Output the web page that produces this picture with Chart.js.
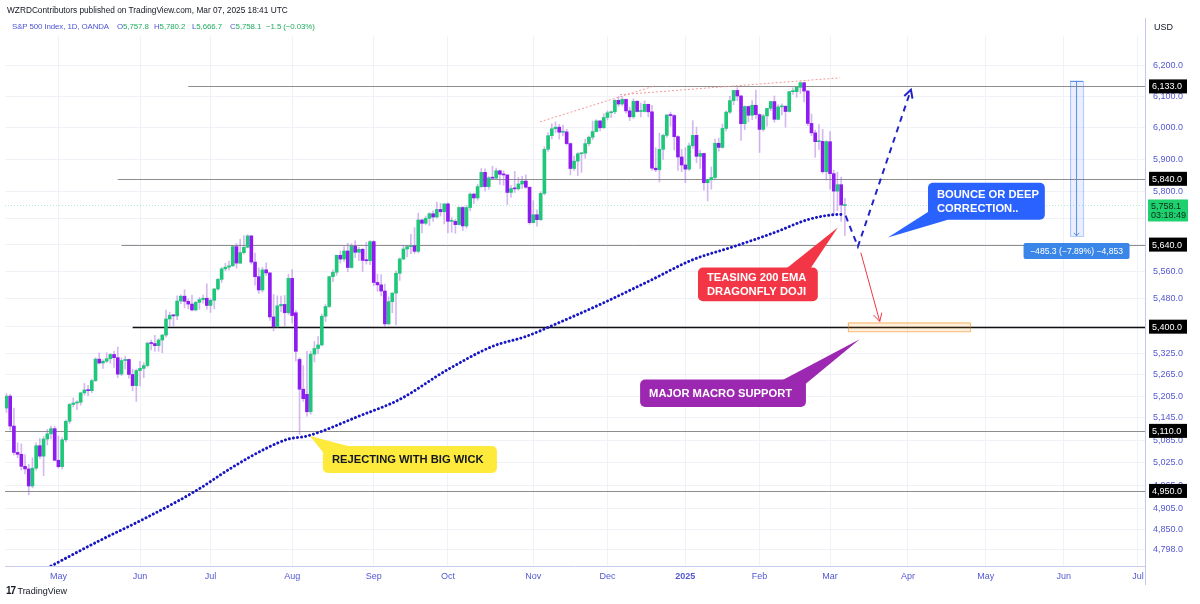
<!DOCTYPE html>
<html>
<head>
<meta charset="utf-8">
<title>S&amp;P 500 Index, 1D, OANDA</title>
<script src="https://cdn.jsdelivr.net/npm/chart.js@4.4.1/dist/chart.umd.min.js"></script>
<style>
  html, body { margin: 0; padding: 0; background: #fff; }
  #wrap { position: relative; width: 1200px; height: 604px; overflow: hidden; font-family: "Liberation Sans", Arial, sans-serif; }
  #chart { position: absolute; left: 0; top: 0; }
  .t { position: absolute; white-space: nowrap; font-size: 8.3px; line-height: 10px; }
  .s { font-size: 7.9px; letter-spacing: -0.1px; }
  .blue { color: #4c55d4; }
  .green { color: #1fae60; }
</style>
</head>
<body>
<div id="wrap">
  <canvas id="chart" width="1200" height="604"></canvas>
  <div class="t" style="left:7px;top:5px;color:#131722;">WZRDContributors published on TradingView.com, Mar 07, 2025 18:41 UTC</div>
  <div class="t s blue" style="left:12px;top:22px;">S&amp;P 500 Index, 1D, OANDA</div>
  <div class="t s" id="oVal" style="left:117px;top:22px;"></div>
  <div class="t s" id="hVal" style="left:154px;top:22px;"></div>
  <div class="t s" id="lVal" style="left:192px;top:22px;"></div>
  <div class="t s" id="cVal" style="left:230px;top:22px;"></div>
  <div class="t s green" id="chgVal" style="left:266px;top:22px;"></div>
  <div class="t" style="left:6px;top:586px;color:#131722;font-size:9px;"><b style="letter-spacing:-1px;font-size:10px;">17</b> TradingView</div>
</div>
<script>
// OANDA SPX500 daily candles, 11 Apr 2024 .. 7 Mar 2025 (index 0 = 11 Apr)
const opens = [
  // Apr
  5172, 5205, 5123, 5052, 5047, 5015, 5008, 4963, 5010, 5070, 5042, 5088, 5102, 5116,
  // May
  5031, 5014, 5086, 5136, 5182, 5186, 5188, 5214, 5222, 5220, 5248, 5308, 5297, 5302, 5309, 5321, 5312, 5266, 5304, 5307, 5265, 5234,
  // Jun
  5276, 5282, 5290, 5353, 5352, 5346, 5362, 5376, 5422, 5433, 5431, 5474, 5488, 5473, 5465, 5448, 5470, 5478, 5482,
  // Jul
  5461, 5476, 5509, 5537, 5568, 5573, 5577, 5634, 5585, 5616, 5632, 5666, 5588, 5545, 5506, 5565, 5556, 5428, 5400, 5460, 5464, 5440,
  // Aug
  5540, 5440, 5307, 5224, 5210, 5162, 5322, 5338, 5348, 5430, 5458, 5545, 5558, 5608, 5597, 5621, 5572, 5635, 5617, 5626, 5593, 5592,
  // Sep
  5649, 5528, 5521, 5503, 5408, 5472, 5497, 5555, 5597, 5627, 5634, 5636, 5620, 5714, 5704, 5719, 5733, 5723, 5746, 5739,
  // Oct
  5763, 5710, 5710, 5700, 5752, 5696, 5752, 5793, 5781, 5816, 5860, 5816, 5843, 5842, 5865, 5854, 5852, 5798, 5810, 5809, 5824, 5833, 5814,
  // Nov
  5706, 5730, 5715, 5795, 5932, 5975, 5997, 6002, 5986, 5987, 5950, 5872, 5895, 5918, 5920, 5950, 5970, 5988, 6022, 6000,
  // Dec
  6033, 6048, 6051, 6088, 6076, 6091, 6054, 6035, 6085, 6052, 6052, 6075, 6051, 5873, 5868, 5932, 5976, 6041, 6039, 5972, 5908,
  // Jan
  5883, 5870, 5943, 5976, 5910, 5919, 5828, 5837, 5844, 5951, 5938, 5998, 6050, 6087, 6120, 6102, 6013, 6068, 6040, 6072,
  // Feb
  6042, 5995, 6038, 6062, 6084, 6027, 6067, 6069, 6052, 6116, 6116, 6130, 6145, 6118, 6014, 5984, 5956, 5957, 5862,
  // Mar
  5956, 5856, 5802, 5822, 5757.8
];
const highs = [
  5212, 5210, 5172, 5078, 5075, 5046, 5020, 5038, 5078, 5090, 5095, 5114, 5123, 5122,
  5096, 5092, 5140, 5185, 5200, 5193, 5216, 5240, 5235, 5252, 5312, 5325, 5306, 5326, 5324, 5330, 5342, 5311, 5316, 5308, 5280, 5280,
  5302, 5298, 5356, 5362, 5375, 5366, 5378, 5448, 5442, 5436, 5489, 5492, 5507, 5480, 5491, 5473, 5484, 5491, 5524,
  5481, 5511, 5540, 5572, 5584, 5591, 5636, 5643, 5656, 5667, 5670, 5668, 5615, 5571, 5572, 5586, 5558, 5493, 5489, 5488, 5490, 5552,
  5566, 5446, 5312, 5290, 5330, 5330, 5358, 5372, 5436, 5464, 5547, 5565, 5609, 5621, 5634, 5644, 5643, 5652, 5632, 5629, 5647, 5652,
  5652, 5553, 5551, 5523, 5486, 5498, 5562, 5601, 5637, 5638, 5671, 5691, 5735, 5717, 5726, 5736, 5742, 5768, 5765, 5764,
  5766, 5721, 5716, 5754, 5755, 5758, 5797, 5796, 5823, 5872, 5871, 5847, 5879, 5873, 5868, 5865, 5853, 5819, 5863, 5844, 5848, 5852, 5815,
  5773, 5745, 5800, 5940, 5984, 6013, 6019, 6011, 6009, 5995, 5952, 5911, 5922, 5922, 5964, 5974, 6021, 6026, 6023, 6045,
  6054, 6054, 6090, 6100, 6100, 6092, 6066, 6093, 6086, 6079, 6086, 6076, 6072, 5937, 5983, 5980, 6041, 6050, 6042, 5975, 5932,
  5937, 5952, 6023, 6002, 5929, 5920, 5839, 5877, 5964, 5967, 6012, 6054, 6101, 6120, 6129, 6105, 6070, 6070, 6087, 6121,
  6045, 6043, 6063, 6085, 6102, 6074, 6077, 6070, 6117, 6128, 6130, 6148, 6146, 6120, 6044, 5993, 6010, 5995, 5960,
  5988, 5867, 5861, 5845, 5780.2
];
const lows = [
  5160, 5112, 5045, 5038, 5005, 4995, 4940, 4958, 5005, 5035, 4990, 5072, 5088, 5030,
  5010, 5008, 5080, 5130, 5176, 5168, 5180, 5208, 5206, 5215, 5245, 5294, 5282, 5298, 5296, 5285, 5256, 5262, 5280, 5255, 5220, 5190,
  5233, 5256, 5286, 5334, 5330, 5330, 5326, 5370, 5402, 5402, 5420, 5466, 5454, 5451, 5445, 5445, 5450, 5468, 5450,
  5441, 5451, 5505, 5528, 5562, 5564, 5575, 5570, 5583, 5612, 5630, 5582, 5520, 5496, 5500, 5548, 5418, 5388, 5398, 5443, 5402, 5435,
  5410, 5302, 5100, 5190, 5150, 5155, 5300, 5324, 5345, 5415, 5455, 5530, 5549, 5585, 5590, 5560, 5570, 5601, 5592, 5560, 5582, 5580,
  5518, 5502, 5489, 5401, 5405, 5440, 5405, 5534, 5595, 5603, 5613, 5614, 5615, 5675, 5700, 5697, 5710, 5720, 5726, 5702,
  5675, 5677, 5674, 5698, 5682, 5690, 5742, 5764, 5774, 5812, 5803, 5808, 5838, 5840, 5823, 5820, 5761, 5783, 5798, 5805, 5810, 5810, 5701,
  5705, 5695, 5712, 5790, 5925, 5965, 5985, 5964, 5974, 5945, 5852, 5866, 5850, 5860, 5904, 5943, 5962, 5990, 5990, 5998,
  6025, 6033, 6045, 6068, 6070, 6047, 6023, 6030, 6050, 6035, 6050, 6035, 5866, 5862, 5830, 5900, 5970, 6005, 5930, 5866, 5862,
  5828, 5866, 5935, 5890, 5872, 5805, 5772, 5808, 5840, 5926, 5935, 5990, 6045, 6074, 6087, 5960, 5994, 6018, 6026, 6030,
  5922, 5989, 6005, 6054, 6018, 6025, 6041, 6002, 6050, 6107, 6098, 6110, 6083, 6007, 5975, 5907, 5932, 5857, 5836,
  5808, 5731, 5742, 5710, 5666.7
];
const closes = [
  5205, 5123, 5052, 5047, 5015, 5008, 4963, 5010, 5070, 5042, 5088, 5102, 5116, 5031,
  5014, 5086, 5136, 5182, 5186, 5188, 5214, 5222, 5220, 5248, 5308, 5297, 5302, 5309, 5321, 5312, 5266, 5304, 5307, 5265, 5234, 5276,
  5282, 5290, 5353, 5352, 5346, 5362, 5376, 5422, 5433, 5431, 5474, 5488, 5473, 5465, 5448, 5470, 5478, 5482, 5461,
  5476, 5509, 5537, 5568, 5573, 5577, 5634, 5585, 5616, 5632, 5666, 5588, 5545, 5506, 5565, 5556, 5428, 5400, 5460, 5464, 5440, 5540,
  5432, 5330, 5224, 5198, 5162, 5322, 5338, 5348, 5430, 5458, 5545, 5558, 5608, 5597, 5621, 5572, 5635, 5617, 5626, 5593, 5592, 5649,
  5528, 5521, 5503, 5408, 5472, 5497, 5555, 5597, 5627, 5634, 5636, 5620, 5714, 5704, 5719, 5733, 5723, 5746, 5739, 5763,
  5710, 5710, 5700, 5752, 5696, 5752, 5793, 5781, 5816, 5860, 5816, 5843, 5842, 5865, 5854, 5852, 5798, 5810, 5809, 5824, 5833, 5814, 5706,
  5730, 5715, 5795, 5932, 5975, 5997, 6002, 5986, 5987, 5950, 5872, 5895, 5918, 5920, 5950, 5970, 5988, 6022, 6000, 6033,
  6048, 6051, 6088, 6076, 6091, 6054, 6035, 6085, 6052, 6052, 6075, 6051, 5873, 5868, 5932, 5976, 6041, 6039, 5972, 5908, 5883,
  5870, 5943, 5976, 5910, 5919, 5828, 5837, 5844, 5951, 5938, 5998, 6050, 6087, 6120, 6102, 6013, 6068, 6040, 6072, 6042,
  5995, 6038, 6062, 6084, 6027, 6067, 6069, 6052, 6116, 6116, 6130, 6145, 6118, 6014, 5984, 5956, 5957, 5862, 5956,
  5856, 5802, 5822, 5759.6, 5758.1
];

// 200 EMA at a few bars
const emaIdx = [11, 25, 37, 51, 61, 70, 76, 81, 95, 106, 119, 131, 140, 149, 160, 173, 185, 196, 207, 216, 223, 226];
const emaVal = [4752, 4821, 4877, 4950, 5013, 5063, 5088, 5096, 5150, 5196, 5279, 5344, 5372, 5412, 5464, 5531, 5595, 5634, 5676, 5715, 5730, 5731];

// time axis (bar index of first session of each month, future months included)
const monthIdx = [14, 36, 55, 77, 99, 119, 142, 162, 183, 203, 222, 243, 264, 285, 305];
const monthLabels = ['May', 'Jun', 'Jul', 'Aug', 'Sep', 'Oct', 'Nov', 'Dec', '2025', 'Feb', 'Mar', 'Apr', 'May', 'Jun', 'Jul'];

// price axis
const priceTicks = [4798, 4850, 4905, 4965, 5025, 5085, 5145, 5205, 5265, 5325, 5400, 5480, 5560, 5640, 5720, 5800, 5900, 6000, 6100, 6200];

// horizontal levels drawn on the chart
const levelPrices = [6133, 5840, 5640, 5400, 5110, 4950];
const levelStart = [49, 30, 31, 34, -1, -1];

const UP = '#20c77a';
const DOWN = '#8e1cf0';
const TICK = '#5458d1';
const FONT = '"Liberation Sans", Arial, sans-serif';

function fmt(v) {
    return v.toLocaleString('en-US', { minimumFractionDigits: 1, maximumFractionDigits: 1 });
}

// Header with last bar values
const last = closes.length - 1;
const chg = closes[last] - closes[last - 1];
const sign = chg < 0 ? '\u2212' : '+';
const pair = (k, v) => '<span class="blue">' + k + '</span><span class="green">' + fmt(v) + '</span>';
document.getElementById('oVal').innerHTML = pair('O', opens[last]);
document.getElementById('hVal').innerHTML = pair('H', highs[last]);
document.getElementById('lVal').innerHTML = pair('L', lows[last]);
document.getElementById('cVal').innerHTML = pair('C', closes[last]);
document.getElementById('chgVal').textContent =
    sign + Math.abs(chg).toFixed(1) + ' (' + sign + Math.abs(chg / closes[last - 1] * 100).toFixed(2) + '%)';

// Drawings (in bar index / price)
const trendLines = [[143.8, 6019, 174.8, 6135], [165.4, 6106, 224.7, 6161]];
const scenarioPath = [[226.2, 5727], [229.5, 5634], [243.8, 6122]];
const redArrow = [[230.3, 5616], [235.4, 5415]];
const targetZone = { x1: 226.8, x2: 259.7, top: 5412, bottom: 5387 };
const measure = { x1: 286.7, x2: 290.2, top: 6151, bottom: 5666, text: '\u2212485.3 (\u22127.89%) \u22124,853' };
const callouts = [
    { lines: ['BOUNCE OR DEEP', 'CORRECTION..'], bg: '#2962ff', fg: '#fff', x1: 248.4, x2: 279.9, top: 5828, bottom: 5715, tip: [237.6, 5661], base: [[0.02, 0.75], [0.17, 1]] },
    { lines: ['TEASING 200 EMA', 'DRAGONFLY DOJI'], bg: '#f23645', fg: '#fff', x1: 186.4, x2: 218.7, top: 5572, bottom: 5473, tip: [224.1, 5691], base: [[0.74, 0.02], [0.94, 0.02]] },
    { lines: ['MAJOR MACRO SUPPORT'], bg: '#9c27b0', fg: '#fff', x1: 170.8, x2: 215.5, top: 5251, bottom: 5175, tip: [230, 5364], base: [[0.86, 0.02], [0.99, 0.2]] },
    { lines: ['REJECTING WITH BIG WICK'], bg: '#fdea3b', fg: '#131722', x1: 85.3, x2: 132.2, top: 5069, bottom: 4997, tip: [81.8, 5096], base: [[0.01, 0.3], [0.16, 0.02]] }
];

function arrowHead(ctx, x0, y0, x1, y1, len, ang) {
    const a = Math.atan2(y1 - y0, x1 - x0);
    ctx.beginPath();
    ctx.moveTo(x1 - len * Math.cos(a - ang), y1 - len * Math.sin(a - ang));
    ctx.lineTo(x1, y1);
    ctx.lineTo(x1 - len * Math.cos(a + ang), y1 - len * Math.sin(a + ang));
    ctx.stroke();
}

// Level lines and last price line, under the candles
const levelsPlugin = {
    id: 'levels',
    beforeDatasetsDraw(chart) {
        const { ctx, chartArea: a, scales: { x, y } } = chart;
        ctx.save();
        // last price line
        const py = Math.round(y.getPixelForValue(closes[last])) + 0.5;
        ctx.strokeStyle = 'rgba(34,196,123,0.35)';
        ctx.setLineDash([1, 2]);
        ctx.lineWidth = 1;
        ctx.beginPath();
        ctx.moveTo(a.left, py);
        ctx.lineTo(a.right, py);
        ctx.stroke();
        ctx.setLineDash([]);
        levelPrices.forEach((p, i) => {
            const yy = Math.round(y.getPixelForValue(p)) + 0.5;
            ctx.strokeStyle = p === 5400 ? '#111' : '#8d8d8d';
            ctx.lineWidth = p === 5400 ? 1.4 : 1;
            ctx.beginPath();
            ctx.moveTo(Math.max(a.left, x.getPixelForValue(levelStart[i])), yy);
            ctx.lineTo(a.right, yy);
            ctx.stroke();
        });
        ctx.restore();
    }
};

// Drawings on top of the candles, then the price axis labels
const overlayPlugin = {
    id: 'overlay',
    afterDatasetsDraw(chart) {
        const { ctx, scales: { x, y } } = chart;
        const X = v => x.getPixelForValue(v);
        const Y = v => y.getPixelForValue(v);
        ctx.save();

        // pink dotted trend lines
        ctx.strokeStyle = '#f29a9a';
        ctx.lineWidth = 1;
        ctx.setLineDash([2, 2]);
        trendLines.forEach(t => {
            ctx.beginPath();
            ctx.moveTo(X(t[0]), Y(t[1]));
            ctx.lineTo(X(t[2]), Y(t[3]));
            ctx.stroke();
        });

        // dashed scenario path
        ctx.strokeStyle = '#2323c8';
        ctx.lineWidth = 2;
        ctx.setLineDash([6, 5]);
        ctx.beginPath();
        scenarioPath.forEach((p, i) => i ? ctx.lineTo(X(p[0]), Y(p[1])) : ctx.moveTo(X(p[0]), Y(p[1])));
        ctx.stroke();
        ctx.setLineDash([]);
        const s1 = scenarioPath[1], s2 = scenarioPath[2];
        arrowHead(ctx, X(s1[0]), Y(s1[1]), X(s2[0]), Y(s2[1]), 9, 0.5);

        // red arrow to the target zone
        ctx.strokeStyle = '#f23645';
        ctx.lineWidth = 1;
        ctx.beginPath();
        ctx.moveTo(X(redArrow[0][0]), Y(redArrow[0][1]));
        ctx.lineTo(X(redArrow[1][0]), Y(redArrow[1][1]));
        ctx.stroke();
        arrowHead(ctx, X(redArrow[0][0]), Y(redArrow[0][1]), X(redArrow[1][0]), Y(redArrow[1][1]), 9, 0.5);

        // target zone
        const zx = X(targetZone.x1), zy = Y(targetZone.top);
        const zw = X(targetZone.x2) - zx, zh = Y(targetZone.bottom) - zy;
        ctx.fillStyle = 'rgba(255,152,0,0.14)';
        ctx.fillRect(zx, zy, zw, zh);
        ctx.strokeStyle = 'rgba(245,124,0,0.55)';
        ctx.strokeRect(zx + 0.5, zy + 0.5, zw, zh);

        // measurement tool
        const mx1 = X(measure.x1), mx2 = X(measure.x2);
        const my1 = Y(measure.top), my2 = Y(measure.bottom);
        const mc = (mx1 + mx2) / 2;
        ctx.fillStyle = 'rgba(41,98,255,0.1)';
        ctx.fillRect(mx1, my1, mx2 - mx1, my2 - my1);
        ctx.strokeStyle = 'rgba(41,98,255,0.35)';
        ctx.strokeRect(mx1 + 0.5, my1 + 0.5, mx2 - mx1, my2 - my1);
        ctx.strokeStyle = '#5a8de6';
        ctx.beginPath();
        ctx.moveTo(mc, my1);
        ctx.lineTo(mc, my2);
        ctx.moveTo(mx1, my1 + 0.5);
        ctx.lineTo(mx2, my1 + 0.5);
        ctx.stroke();
        arrowHead(ctx, mc, my1, mc, my2, 4, 0.7);
        ctx.fillStyle = '#3a86e8';
        ctx.beginPath();
        ctx.roundRect(mc - 53, my2 + 7, 106, 16, 2);
        ctx.fill();
        ctx.fillStyle = '#fff';
        ctx.font = '8.6px ' + FONT;
        ctx.textAlign = 'center';
        ctx.textBaseline = 'middle';
        ctx.fillText(measure.text, mc, my2 + 15.5);

        // callouts
        callouts.forEach(c => {
            const bx = X(c.x1), by = Y(c.top);
            const bw = X(c.x2) - bx, bh = Y(c.bottom) - by;
            ctx.fillStyle = c.bg;
            ctx.beginPath();
            ctx.roundRect(bx, by, bw, bh, 5);
            ctx.fill();
            ctx.beginPath();
            ctx.moveTo(bx + c.base[0][0] * bw, by + c.base[0][1] * bh);
            ctx.lineTo(X(c.tip[0]), Y(c.tip[1]));
            ctx.lineTo(bx + c.base[1][0] * bw, by + c.base[1][1] * bh);
            ctx.closePath();
            ctx.fill();
            ctx.fillStyle = c.fg;
            ctx.font = 'bold 11.2px ' + FONT;
            ctx.textAlign = 'left';
            ctx.textBaseline = 'middle';
            const lh = 14;
            const y0 = by + bh / 2 - (c.lines.length - 1) * lh / 2 + 0.5;
            c.lines.forEach((t, k) => ctx.fillText(t, bx + 9, y0 + k * lh));
        });
        ctx.restore();
    },
    afterDraw(chart) {
        const { ctx, chartArea: a, scales: { y } } = chart;
        ctx.save();
        // axis frame line
        ctx.strokeStyle = '#c3c6f4';
        ctx.lineWidth = 1;
        ctx.beginPath();
        ctx.moveTo(a.right + 0.5, 18);
        ctx.lineTo(a.right + 0.5, 585);
        ctx.stroke();

        ctx.font = '9px ' + FONT;
        ctx.textBaseline = 'middle';
        ctx.textAlign = 'left';
        ctx.fillStyle = '#131722';
        ctx.fillText('USD', a.right + 9, 28);

        // level price tags
        levelPrices.forEach(p => {
            const yy = y.getPixelForValue(p);
            ctx.fillStyle = '#000';
            ctx.fillRect(a.right + 4, yy - 7, 38, 14);
            ctx.fillStyle = '#fff';
            ctx.fillText(fmt(p), a.right + 7, yy + 0.5);
        });

        // last price tag with countdown
        const cy = y.getPixelForValue(closes[last]);
        ctx.fillStyle = '#1fd06f';
        ctx.fillRect(a.right + 3, cy - 6, 40, 22);
        ctx.fillStyle = '#0d2b19';
        ctx.fillText(fmt(closes[last]), a.right + 6, cy + 1);
        ctx.fillText('03:18:49', a.right + 6, cy + 10.5);
        ctx.restore();
    }
};

const bodyData = closes.map((c, i) => ({ x: i, y: [opens[i], c] }));
const wickData = closes.map((c, i) => ({ x: i, y: [lows[i], highs[i]] }));
const bodyColors = closes.map((c, i) => c >= opens[i] ? UP : DOWN);

new Chart(document.getElementById('chart'), {
    type: 'bar',
    data: {
        datasets: [
            {
                type: 'line',
                data: emaIdx.map((v, i) => ({ x: v, y: emaVal[i] })),
                borderColor: '#1616c4',
                borderWidth: 2.9,
                borderDash: [0.1, 4],
                borderCapStyle: 'round',
                cubicInterpolationMode: 'monotone',
                pointRadius: 0,
                order: 0
            },
            {
                data: bodyData,
                backgroundColor: bodyColors,
                barThickness: 3,
                grouped: false,
                minBarLength: 1,
                order: 1
            },
            {
                data: wickData,
                backgroundColor: 'rgba(160,100,225,0.45)',
                barThickness: 1,
                grouped: false,
                order: 2
            }
        ]
    },
    options: {
        responsive: false,
        animation: false,
        events: [],
        layout: { padding: { left: 5, right: 0, top: 36, bottom: 18 } },
        plugins: { legend: { display: false }, tooltip: { enabled: false } },
        scales: {
            x: {
                type: 'linear',
                min: -0.4,
                max: 306.9,
                offset: false,
                afterBuildTicks: axis => { axis.ticks = monthIdx.map(v => ({ value: v })); },
                afterFit: axis => { axis.height = 20; },
                ticks: {
                    autoSkip: false,
                    maxRotation: 0,
                    padding: 5,
                    color: TICK,
                    font: c => ({ family: FONT, size: 9, weight: monthLabels[c.index] === '2025' ? 'bold' : 'normal' }),
                    callback: (v, i) => monthLabels[i]
                },
                grid: { color: '#f1f2f8', drawTicks: false, offset: false },
                border: { color: '#c9cbf3' }
            },
            y: {
                type: 'logarithmic',
                position: 'right',
                min: 4757,
                max: 6299,
                afterBuildTicks: axis => { axis.ticks = priceTicks.map(v => ({ value: v })); },
                afterFit: axis => { axis.width = 55; },
                ticks: {
                    padding: 8,
                    color: TICK,
                    font: { family: FONT, size: 9 },
                    callback: v => fmt(v)
                },
                grid: { color: '#f1f2f8', drawTicks: false },
                border: { color: '#c3c6f4' }
            }
        }
    },
    plugins: [levelsPlugin, overlayPlugin]
});
</script>
</body>
</html>
